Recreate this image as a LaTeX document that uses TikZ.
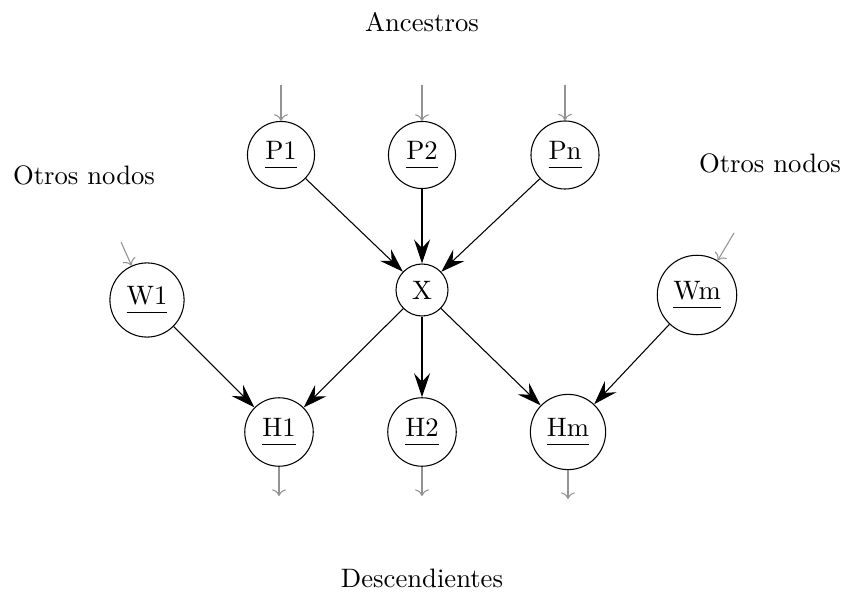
\documentclass[tikz,border=0pt]{standalone}
\usetikzlibrary{arrows.meta}
% underline set a little lower than usual
\newcommand\lowul[1]{\underline{\rule[-1.6pt]{0pt}{1pt}#1}}
\begin{document}
\begin{tikzpicture}[x=0.375pt,y=-0.375pt,
  var/.style={circle,draw},
  link/.style={-{Stealth[length=9pt,width=6pt,inset=3.2pt]}},
  stub/.style={->,gray!85,thin}]
\useasboundingbox (0,0) rectangle (845,601);
% labels
\node (anc) at (422,22) {Ancestros};
\node (otl) at (84,175) {Otros nodos};
\node (otr) at (770,163) {Otros nodos};
\node (des) at (422,578) {Descendientes};
% variables
\node[var] (p1) at (281,155) {\lowul{P1}};
\node[var] (p2) at (422,155) {\lowul{P2}};
\node[var] (pn) at (565,155) {\lowul{Pn}};
\node[var] (x)  at (422,290) {X};
\node[var] (w1) at (147,300) {\lowul{W1}};
\node[var] (wm) at (697,295) {\lowul{Wm}};
\node[var] (h1) at (279,432) {\lowul{H1}};
\node[var] (h2) at (422,432) {\lowul{H2}};
\node[var] (hm) at (568,432) {\lowul{Hm}};
% loose ends of the stubs
\coordinate (sp1) at (281,85);
\coordinate (sp2) at (422,85);
\coordinate (spn) at (565,85);
\coordinate (sw1) at (121,242);
\coordinate (swm) at (734,233);
\coordinate (sh1) at (279,496);
\coordinate (sh2) at (422,496);
\coordinate (shm) at (568,499);
% edges
\draw[link] (p1) -- (x);
\draw[link] (p2) -- (x);
\draw[link] (pn) -- (x);
\draw[link] (x) -- (h1);
\draw[link] (x) -- (h2);
\draw[link] (x) -- (hm);
\draw[link] (w1) -- (h1);
\draw[link] (wm) -- (hm);
% stubs
\draw[stub] (sp1) -- (p1);
\draw[stub] (sp2) -- (p2);
\draw[stub] (spn) -- (pn);
\draw[stub] (sw1) -- (w1);
\draw[stub] (swm) -- (wm);
\draw[stub] (h1) -- (sh1);
\draw[stub] (h2) -- (sh2);
\draw[stub] (hm) -- (shm);
\end{tikzpicture}
\end{document}
